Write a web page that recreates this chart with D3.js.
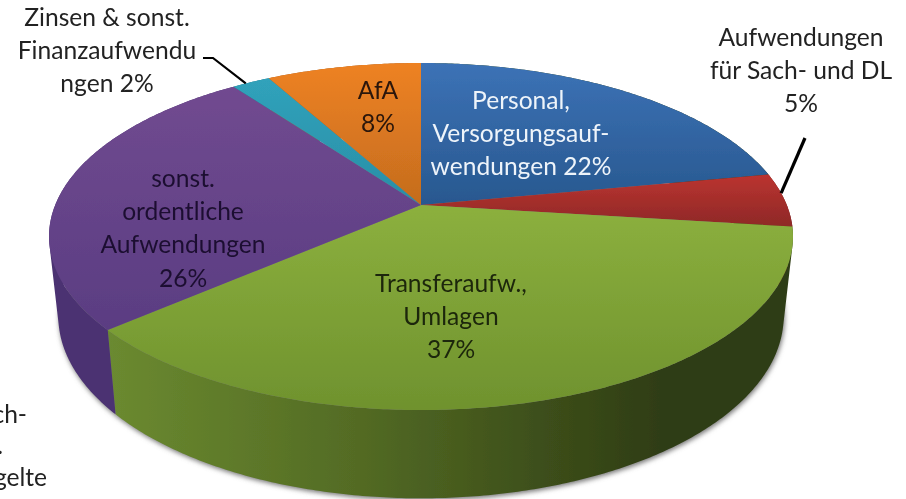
<!DOCTYPE html>
<html><head><meta charset="utf-8">
<script src="https://cdn.jsdelivr.net/npm/d3@7/dist/d3.min.js"></script>
<style>html,body{margin:0;padding:0;background:#fff}svg{display:block}text{font-family:Lato,"Open Sans",sans-serif}</style>
</head><body><svg id="c" width="906" height="499"></svg>
<script>
const categories = ["Personal, Versorgungsaufwendungen","Aufwendungen für Sach- und DL","Transferaufw., Umlagen","sonst. ordentliche Aufwendungen","Zinsen & sonst. Finanzaufwendungen","AfA"];
const values = [22,5,36.6,26.4,2,8];
const topColors = ["#3c72b6","#bb3330","#8cb03e","#714a90","#30a2bb","#ee8223"];
const lowColors = ["#28588f","#8e2927","#6f922e","#5a3d82","#2a8ea6","#c46c1e"];
const wallStops = [["#6b8a30","#536b24","#2f3d14"],["#6d1f1d","#6d1f1d","#6d1f1d"],["#6b8a30","#536b24","#2f3d14"],["#4b3272","#4b3272","#4b3272"],["#1f6f82","#1f6f82","#1f6f82"],["#a05818","#a05818","#a05818"]];
const sliceLabels = [
 {lines:["Personal,","Versorgungsauf-","wendungen 22%"],x:521,y:109,color:"#eef4fa"},
 {lines:["AfA","8%"],x:378,y:99,color:"#2a1608"},
 {lines:["sonst.","ordentliche","Aufwendungen","26%"],x:183,y:187,color:"#1d1030"},
 {lines:["Transferaufw.,","Umlagen","37%"],x:451,y:292,color:"#1c2608"},
 {lines:["Zinsen & sonst.","Finanzaufwendu","ngen 2%"],x:107,y:26,color:"#222"},
 {lines:["Aufwendungen","für Sach- und DL","5%"],x:801,y:46,color:"#222"}
];
const clipped = [{t:"ch-",x:27,y:423},{t:".",x:3,y:454},{t:"gelte",x:47,y:486}];

const svg = d3.select("#c");
const defs = svg.append("defs");
defs.append("filter").attr("id","soft").attr("x","-5%").attr("y","-5%").attr("width","110%").attr("height","110%")
  .append("feGaussianBlur").attr("stdDeviation",0.55);
defs.append("filter").attr("id","shadow").attr("x","-10%").attr("y","-10%").attr("width","120%").attr("height","120%")
  .append("feGaussianBlur").attr("stdDeviation",2.5);

const pie = d3.pie().sort(null).value(d=>d)(values);
const C = {x:421,y:205,A:365.8,B:167.8,k:0.1816,sx:0.975,sy:1.05,cy2:283};
const topP = (t)=>{const x=Math.sin(t),y=Math.cos(t),w=1+C.k*y;return [C.x+C.A*x/w, C.y-C.B*y/w];};
const botP = (t)=>{const x=Math.sin(t),y=Math.cos(t),w=1+C.k*y;return [C.x+C.sx*C.A*x/w, C.cy2-C.sy*C.B*y/w];};
const line = d3.line();
const sweep = (a,b)=>{const n=Math.max(4,Math.ceil((b-a)/0.01));return d3.range(n+1).map(i=>a+(b-a)*i/n);};

const root = svg.append("g").attr("filter","url(#soft)");
root.append("path").attr("d",line(sweep(0,2*Math.PI).map(botP))+"Z")
  .attr("transform","translate(1,2)").attr("fill","#777").attr("filter","url(#shadow)");

pie.forEach((d,i)=>{
  const gt=defs.append("linearGradient").attr("id","top"+i).attr("x1",0).attr("y1",0).attr("x2",0).attr("y2",1);
  gt.append("stop").attr("offset",0).attr("stop-color",topColors[i]);
  gt.append("stop").attr("offset",1).attr("stop-color",lowColors[i]);
  const gw=defs.append("linearGradient").attr("id","wall"+i).attr("gradientUnits","userSpaceOnUse")
    .attr("x1",107).attr("y1",0).attr("x2",660).attr("y2",0);
  wallStops[i].forEach((c,j)=>gw.append("stop").attr("offset",[0,0.45,1][j]).attr("stop-color",c));
});
const order = d3.range(pie.length);
// walls: one consistently wound quad per small arc step, so the fold at the silhouette stays filled
root.selectAll("path.wall").data(order).join("path").attr("class","wall")
  .attr("d",i=>{const s=sweep(pie[i].startAngle,pie[i].endAngle);
    return d3.pairs(s).map(([a,b])=>{
      const h=d3.polygonHull([topP(a),topP(b),botP(b),botP(a)]);
      return line(h)+"Z";}).join("");})
  .attr("fill",i=>`url(#wall${i})`);
root.selectAll("path.face").data(order).join("path").attr("class","face")
  .attr("d",i=>{const s=sweep(pie[i].startAngle,pie[i].endAngle);
    return line([[C.x,C.y]].concat(s.map(topP)))+"Z";})
  .attr("fill",i=>`url(#top${i})`);
const anchor=(i,f)=>topP(pie[i].startAngle+(pie[i].endAngle-pie[i].startAngle)*f);
const a4=anchor(4,0.35), a1=anchor(1,0.37);
root.append("path").attr("d",line([[203,58],[213,58],a4])).attr("fill","none").attr("stroke","#000").attr("stroke-width",2.2);
root.append("path").attr("d",line([a1,[805,138]])).attr("fill","none").attr("stroke","#000").attr("stroke-width",3.2);
const fs=24.6, lh=33.2;
sliceLabels.forEach(l=>{
  l.lines.forEach((t,j)=>root.append("text").attr("x",l.x).attr("y",l.y+j*lh).attr("text-anchor","middle")
    .attr("font-size",fs).attr("fill",l.color).text(t));
});
clipped.forEach(c=>root.append("text").attr("x",c.x).attr("y",c.y).attr("text-anchor","end").attr("font-size",fs).attr("fill","#222").text(c.t));
</script></body></html>
